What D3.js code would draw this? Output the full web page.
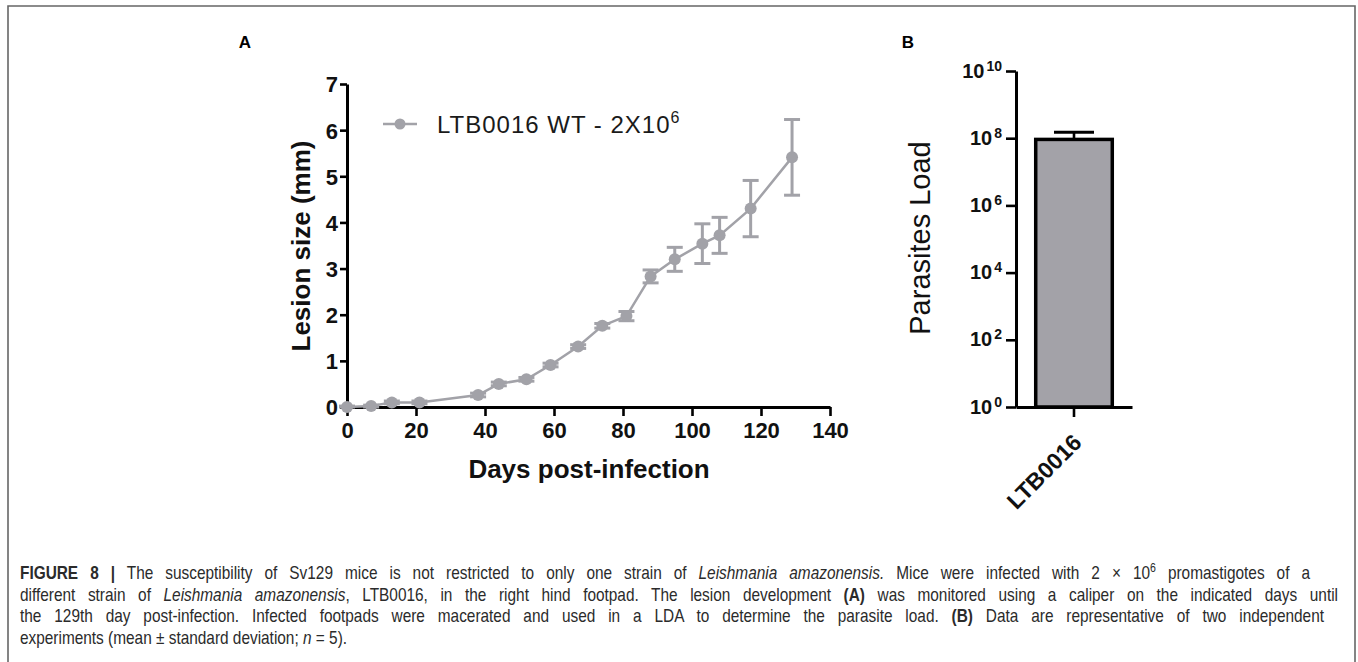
<!DOCTYPE html>
<html lang="en">
<head>
<meta charset="UTF-8" />
<script src="https://d3js.org/d3.v7.min.js"></script>
<style>
  html, body { margin: 0; padding: 0; background: #ffffff; }
  svg { display: block; font-family: "Liberation Sans", Arial, sans-serif; }
</style>
</head>
<body>
<svg width="1358" height="662"></svg>
<script>
// panel A : lesion size over time
var days = [0, 7, 13, 21, 38, 44, 52, 59, 67, 74, 81, 88, 95, 103, 108, 117, 129];
var lesionMean = [0, 0.02, 0.1, 0.1, 0.26, 0.5, 0.6, 0.91, 1.31, 1.76, 1.97, 2.83, 3.2, 3.54, 3.72, 4.3, 5.41];
var lesionSd = [0.02, 0.02, 0.03, 0.03, 0.04, 0.04, 0.04, 0.04, 0.04, 0.05, 0.1, 0.14, 0.26, 0.43, 0.39, 0.61, 0.82];
var dayTicks = [0, 20, 40, 60, 80, 100, 120, 140];
var lesionTicks = [0, 1, 2, 3, 4, 5, 6, 7];
var seriesName = "LTB0016 WT - 2X10";
var seriesSup = "6";

// panel B : parasite load
var strains = ["LTB0016"];
var loadMean = [9.2e7];
var loadSd = [5.8e7];
var loadTicks = [1e0, 1e2, 1e4, 1e6, 1e8, 1e10];

var svg = d3.select("svg");
var grey = "#a2a2a8";

// frame
svg.append("path")
  .attr("d", "M8,670 L8,6 L1355,6 L1355,670")
  .attr("fill", "none")
  .attr("stroke", "#666")
  .attr("stroke-width", 1.6);

////////////////////////////
// panel A
////////////////////////////
var x = d3.scaleLinear().domain([0, 140]).range([347, 830]);
var y = d3.scaleLinear().domain([0, 7]).range([407, 84]);

var gx = svg.append("g")
  .attr("transform", "translate(0,407)")
  .call(d3.axisBottom(x).tickValues(dayTicks).tickFormat(d3.format("d"))
    .tickSize(9).tickSizeOuter(0).tickPadding(6));
var gy = svg.append("g")
  .attr("transform", "translate(347,0)")
  .call(d3.axisLeft(y).tickValues(lesionTicks).tickFormat(d3.format("d"))
    .tickSize(7).tickSizeOuter(0).tickPadding(2));

[gx, gy].forEach(function(g) {
  g.select(".domain").attr("stroke", "#000").attr("stroke-width", 3);
  g.selectAll(".tick line").attr("stroke", "#000").attr("stroke-width", 2.6);
  g.selectAll(".tick text")
    .attr("fill", "#111")
    .style("font-size", "22px")
    .style("font-weight", "bold")
    .style("font-family", "'Liberation Sans', Arial, sans-serif");
});
gy.selectAll(".tick text").attr("dy", "0.36em");

svg.append("text")
  .attr("transform", "translate(310,246) rotate(-90)")
  .attr("text-anchor", "middle")
  .style("font-size", "26px")
  .style("font-weight", "bold")
  .attr("fill", "#111")
  .text("Lesion size (mm)");

svg.append("text")
  .attr("x", 589)
  .attr("y", 478)
  .attr("text-anchor", "middle")
  .style("font-size", "26px")
  .style("font-weight", "bold")
  .attr("fill", "#111")
  .text("Days post-infection");

svg.append("text")
  .attr("x", 245).attr("y", 48)
  .attr("text-anchor", "middle")
  .style("font-size", "17px").style("font-weight", "bold")
  .text("A");

var pts = days.map(function(d, i) { return { day: d, m: lesionMean[i], sd: lesionSd[i] }; });

// error bars
var eb = svg.append("g").attr("stroke", grey).attr("stroke-width", 3);
eb.selectAll("line.v").data(pts).enter().append("line")
  .attr("x1", function(d) { return x(d.day); })
  .attr("x2", function(d) { return x(d.day); })
  .attr("y1", function(d) { return y(d.m - d.sd); })
  .attr("y2", function(d) { return y(d.m + d.sd); });
eb.selectAll("line.top").data(pts).enter().append("line")
  .attr("x1", function(d) { return x(d.day) - 8; })
  .attr("x2", function(d) { return x(d.day) + 8; })
  .attr("y1", function(d) { return y(d.m + d.sd); })
  .attr("y2", function(d) { return y(d.m + d.sd); });
eb.selectAll("line.bot").data(pts).enter().append("line")
  .attr("x1", function(d) { return x(d.day) - 8; })
  .attr("x2", function(d) { return x(d.day) + 8; })
  .attr("y1", function(d) { return y(Math.max(0, d.m - d.sd)); })
  .attr("y2", function(d) { return y(Math.max(0, d.m - d.sd)); });

svg.append("path")
  .datum(pts)
  .attr("fill", "none")
  .attr("stroke", grey)
  .attr("stroke-width", 2.5)
  .attr("d", d3.line().x(function(d) { return x(d.day); }).y(function(d) { return y(d.m); }));

svg.selectAll("circle.pt").data(pts).enter().append("circle")
  .attr("cx", function(d) { return x(d.day); })
  .attr("cy", function(d) { return y(d.m); })
  .attr("r", 6)
  .attr("fill", grey);

// legend
svg.append("line")
  .attr("x1", 383).attr("x2", 417).attr("y1", 124).attr("y2", 124)
  .attr("stroke", grey).attr("stroke-width", 2.5);
svg.append("circle").attr("cx", 400).attr("cy", 124).attr("r", 5.5).attr("fill", grey);
var lt = svg.append("text")
  .attr("x", 437).attr("y", 133)
  .style("font-size", "24px")
  .style("letter-spacing", "1px")
  .attr("fill", "#1a1a1a");
lt.append("tspan").text(seriesName);
lt.append("tspan").attr("dy", -10).style("font-size", "16px").text(seriesSup);

////////////////////////////
// panel B
////////////////////////////
var xb = d3.scaleBand().domain(strains).range([1016, 1132]).paddingInner(0.34).paddingOuter(0.17);
var yb = d3.scaleLog().domain([1, 1e10]).range([407, 71]);

var gby = svg.append("g")
  .attr("transform", "translate(1016,0)")
  .call(d3.axisLeft(yb).tickValues(loadTicks).tickSize(10).tickSizeOuter(0).tickPadding(4));
gby.select(".domain").attr("stroke", "#000").attr("stroke-width", 3);
gby.selectAll(".tick line").attr("stroke", "#000").attr("stroke-width", 2.6);
gby.selectAll(".tick text").each(function(d) {
  var t = d3.select(this);
  t.text(null)
    .attr("dy", "0.3em")
    .attr("fill", "#111")
    .style("font-size", "20px")
    .style("font-weight", "bold")
    .style("font-family", "'Liberation Sans', Arial, sans-serif");
  t.append("tspan").text("10");
  t.append("tspan").attr("dx", 2).attr("dy", -7).style("font-size", "14px").text(Math.round(Math.log10(d)));
});

var gbx = svg.append("g")
  .attr("transform", "translate(0,407)")
  .call(d3.axisBottom(xb).tickSize(10).tickSizeOuter(0).tickFormat(""));
gbx.select(".domain").attr("stroke", "#000").attr("stroke-width", 3);
gbx.selectAll(".tick line").attr("stroke", "#000").attr("stroke-width", 2.6);

// bars
svg.selectAll("rect.bar").data(strains).enter().append("rect")
  .attr("x", function(d) { return xb(d); })
  .attr("width", xb.bandwidth())
  .attr("y", function(d, i) { return yb(loadMean[i]); })
  .attr("height", function(d, i) { return yb(1) - yb(loadMean[i]); })
  .attr("fill", "#a3a2a8")
  .attr("stroke", "#000")
  .attr("stroke-width", 3.5);

// upper error bar + rotated category label
strains.forEach(function(s, i) {
  var cx = xb(s) + xb.bandwidth() / 2;
  svg.append("line")
    .attr("x1", cx).attr("x2", cx)
    .attr("y1", yb(loadMean[i]))
    .attr("y2", yb(loadMean[i] + loadSd[i]))
    .attr("stroke", "#000").attr("stroke-width", 2.6);
  svg.append("line")
    .attr("x1", cx - 20).attr("x2", cx + 20)
    .attr("y1", yb(loadMean[i] + loadSd[i]))
    .attr("y2", yb(loadMean[i] + loadSd[i]))
    .attr("stroke", "#000").attr("stroke-width", 3);
  svg.append("text")
    .attr("transform", "translate(" + (cx + 9) + ",444) rotate(-45)")
    .attr("text-anchor", "end")
    .style("font-size", "23px")
    .style("font-weight", "bold")
    .attr("fill", "#111")
    .text(s);
});

svg.append("text")
  .attr("transform", "translate(930,238) rotate(-90)")
  .attr("text-anchor", "middle")
  .style("font-size", "29px")
  .attr("fill", "#111")
  .text("Parasites Load");

svg.append("text")
  .attr("x", 908).attr("y", 48)
  .attr("text-anchor", "middle")
  .style("font-size", "17px").style("font-weight", "bold")
  .text("B");

////////////////////////////
// caption (justified, slightly condensed)
////////////////////////////
var squeeze = 0.88;
var capLines = [
  { y: 579, w: 1290, justify: true, parts: [["FIGURE 8 |", "b"], [" The susceptibility of Sv129 mice is not restricted to only one strain of ", ""], ["Leishmania amazonensis.", "i"], [" Mice were infected with 2 \u00d7 10", ""], ["6", "sup"], [" promastigotes of a", ""]] },
  { y: 601, w: 1318, justify: true, parts: [["different strain of ", ""], ["Leishmania amazonensis", "i"], [", LTB0016, in the right hind footpad. The lesion development ", ""], ["(A)", "b"], [" was monitored using a caliper on the indicated days until", ""]] },
  { y: 622, w: 1304, justify: true, parts: [["the 129th day post-infection. Infected footpads were macerated and used in a LDA to determine the parasite load. ", ""], ["(B)", "b"], [" Data are representative of two independent", ""]] },
  { y: 644, w: 0, justify: false, parts: [["experiments (mean \u00b1 standard deviation; ", ""], ["n", "i"], [" = 5).", ""]] }
];

capLines.forEach(function(line) {
  var t = svg.append("text")
    .attr("x", 0).attr("y", 0)
    .attr("transform", "translate(20," + line.y + ") scale(" + squeeze + ",1)")
    .attr("fill", "#2b2b2b")
    .style("font-size", "17.5px");
  var afterSup = false;
  var full = "";
  line.parts.forEach(function(p) {
    full += p[0];
    var ts = t.append("tspan").text(p[0]);
    if (afterSup) { ts.attr("dy", 7); afterSup = false; }
    if (p[1] == "b") ts.style("font-weight", "bold");
    if (p[1] == "i") ts.style("font-style", "italic");
    if (p[1] == "sup") {
      ts.attr("dy", -7).style("font-size", "12px");
      afterSup = true;
    }
  });
  if (line.justify) {
    var natural = t.node().getComputedTextLength();
    var gaps = full.split(" ").length - 1;
    var ws = Math.max(0, (line.w / squeeze - natural) / gaps);
    t.style("word-spacing", ws + "px");
  }
});
</script>
</body>
</html>
